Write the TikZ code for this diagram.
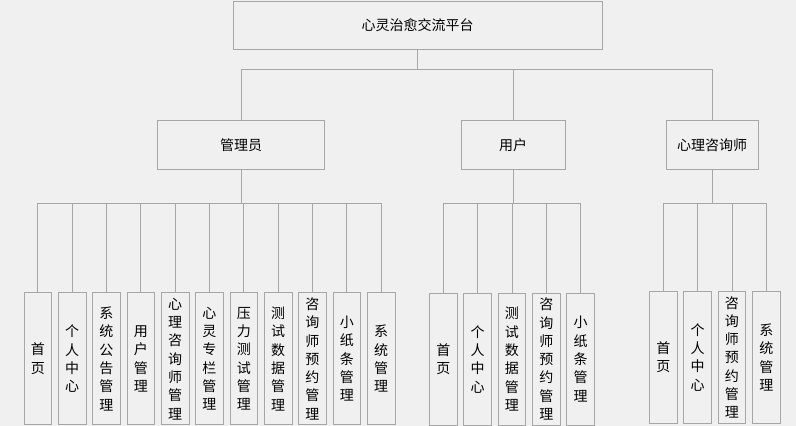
\documentclass[tikz,border=0pt]{standalone}
\usepackage{fontspec}
\newfontfamily\cjk{Noto Sans CJK SC}
\definecolor{bg}{HTML}{F0F0F0}
\definecolor{ln}{HTML}{A6A6A6}
\begin{document}
\begin{tikzpicture}[x=1pt,y=-1pt,
 box/.style={draw=ln,fill=bg,line width=0.8pt,inner sep=0pt,font=\cjk\fontsize{14}{17}\selectfont},
 leaf/.style={box,minimum width=27.7pt,minimum height=132pt,align=center,font=\cjk\fontsize{14}{18.3}\selectfont},
 conn/.style={draw=ln,line width=0.8pt}]
\fill[bg] (0,0) rectangle (796,426);
\useasboundingbox (0,0) rectangle (796,426);
\node[box,minimum width=369pt,minimum height=48pt] (root) at (417.5,25) {心灵治愈交流平台};
\node[box,minimum width=167pt,minimum height=49pt] (adm) at (241,145) {管理员};
\node[box,minimum width=104pt,minimum height=49pt] (usr) at (513,145) {用户};
\node[box,minimum width=92pt,minimum height=49pt] (psy) at (712,145) {心理咨询师};
\foreach \t [count=\i from 0] in {{首\\页},{个\\人\\中\\心},{系\\统\\公\\告\\管\\理},{用\\户\\管\\理},{心\\理\\咨\\询\\师\\管\\理},{心\\灵\\专\\栏\\管\\理},{压\\力\\测\\试\\管\\理},{测\\试\\数\\据\\管\\理},{咨\\询\\师\\预\\约\\管\\理},{小\\纸\\条\\管\\理},{系\\统\\管\\理}}
  \node[leaf] (a\i) at (37.8+34.33*\i,358.8) {\t};
\foreach \t [count=\i from 0] in {{首\\页},{个\\人\\中\\心},{测\\试\\数\\据\\管\\理},{咨\\询\\师\\预\\约\\管\\理},{小\\纸\\条\\管\\理}}
  \node[leaf] (u\i) at (443.3+34.33*\i,359.1) {\t};
\foreach \t [count=\i from 0] in {{首\\页},{个\\人\\中\\心},{咨\\询\\师\\预\\约\\管\\理},{系\\统\\管\\理}}
  \node[leaf,minimum height=131.3pt] (p\i) at (663.3+34.33*\i,357.35) {\t};
\foreach \n in {adm,usr,psy}
  \draw[conn] (root.south) -- ++(0,20) -| (\n.north);
\foreach \i in {0,...,10}
  \draw[conn] (adm.south) -- ++(0,33) -| (a\i.north);
\foreach \i in {0,...,4}
  \draw[conn] (usr.south) -- ++(0,33) -| (u\i.north);
\foreach \i in {0,...,3}
  \draw[conn] (psy.south) -- ++(0,33) -| (p\i.north);
\end{tikzpicture}
\end{document}
